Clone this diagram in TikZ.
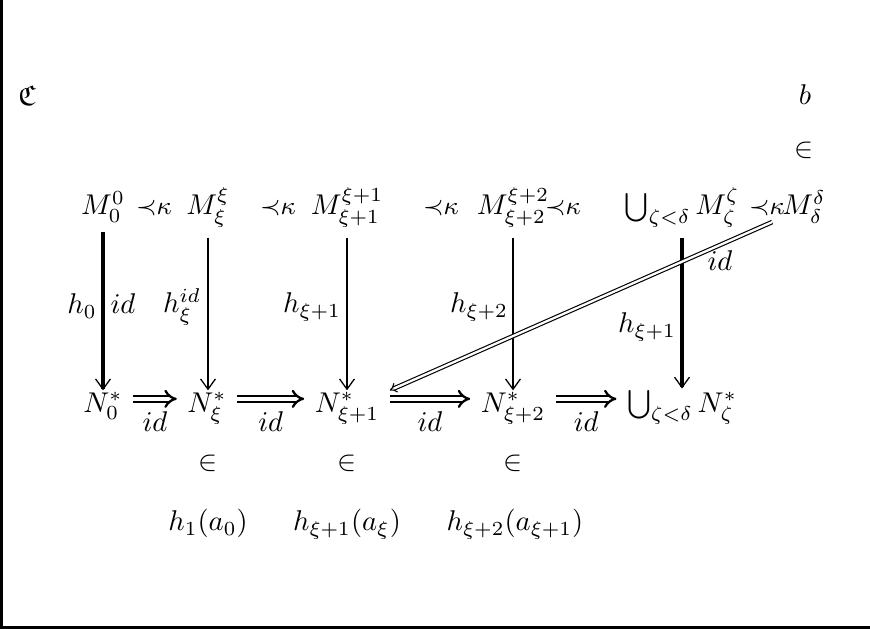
\documentclass[tikz,border=0pt]{standalone}
\usepackage{amssymb}
\usetikzlibrary{arrows.meta}
\begin{document}
\begin{tikzpicture}[x=0.35pt,y=-0.35pt,
  mnode/.style={anchor=base,inner sep=3.33pt},
  bnode/.style={anchor=base,inner xsep=3.5pt,inner ysep=0.5pt},
  txt/.style={anchor=base,inner sep=0pt},
  reltxt/.style={anchor=base,inner sep=0pt,font=\small},
  xytip/.style={-{Straight Barb[length=3.6pt,width=5.2pt,line width=0.45pt]}},
  thinar/.style={line width=0.7pt,xytip},
  thickar/.style={line width=1.2pt,xytip},
  dblar/.style={double,double distance=1.3pt,line width=0.8pt,-{Implies}},
  diagar/.style={double,double distance=0.8pt,line width=0.4pt,-{Implies}},
  frameline/.style={line width=1pt}
]
\useasboundingbox (0,0) rectangle (870,629);
\draw[frameline] (1.5,0) -- (1.5,627.5) -- (870,627.5);

% top labels
\node[txt] (c) at (27,106) {$\mathfrak{C}$};
\node[txt] (b) at (805,105) {$b$};
\node[txt] (inb) at (804,158) {$\in$};

% top row
\node[mnode] (M0) at (103,215) {$M_0^0$};
\node[reltxt] (p1) at (154,215) {${\prec}\kappa$};
\node[mnode] (Mxi) at (208,215) {$M_\xi^\xi$};
\node[reltxt] (p2) at (278,215) {${\prec}\kappa$};
\node[mnode] (Mxi1) at (347,215) {$M_{\xi+1}^{\xi+1}$};
\node[reltxt] (p3) at (441,215) {${\prec}\kappa$};
\node[mnode] (Mxi2) at (513,215) {$M_{\xi+2}^{\xi+2}$};
\node[reltxt] (p4) at (563,215) {${\prec}\kappa$};
\node[mnode] (MU) at (682,215) {$\bigcup_{\zeta<\delta} M_\zeta^\zeta$};
\node[reltxt] (p5) at (767,215) {${\prec}\kappa$};
\node[mnode] (Md) at (804,215) {$M_\delta^\delta$};

% bottom row
\node[bnode] (N0) at (103,412) {$N_0^*$};
\node[bnode] (Nxi) at (207,412) {$N_\xi^*$};
\node[bnode] (Nxi1) at (347,412) {$N_{\xi+1}^*$};
\node[bnode] (Nxi2) at (513,412) {$N_{\xi+2}^*$};
\node[bnode] (NU) at (682,412) {$\bigcup_{\zeta<\delta} N_\zeta^*$};

% elements
\node[txt] (in1) at (208,471) {$\in$};
\node[txt] (in2) at (347,471) {$\in$};
\node[txt] (in3) at (513,471) {$\in$};
\node[txt] (e1) at (208,531) {$h_1(a_0)$};
\node[txt] (e2) at (347,531) {$h_{\xi+1}(a_\xi)$};
\node[txt] (e3) at (515,531) {$h_{\xi+2}(a_{\xi+1})$};

% vertical arrows
\draw[thickar] (M0) -- (N0);
\draw[thinar] (Mxi) -- (Mxi |- Nxi.north);
\draw[thinar] (Mxi1) -- (Nxi1);
\draw[thinar] (Mxi2) -- (Nxi2);
\draw[thickar] (MU) -- (NU);

% vertical labels
\node[txt] (l1) at (82,314) {$h_0$};
\node[txt] (l2) at (123,314) {$id$};
\node[txt] (l3) at (182,313) {$h_\xi^{id}$};
\node[txt] (l4) at (312,313) {$h_{\xi+1}$};
\node[txt] (l5) at (479,313) {$h_{\xi+2}$};
\node[txt] (l6) at (647,333) {$h_{\xi+1}$};

% horizontal double arrows
\draw[dblar] ([yshift=4.6pt]N0.base east) -- ([yshift=4.6pt]Nxi.base west) node[midway,below=0.8pt] {$id$};
\draw[dblar] ([yshift=4.6pt]Nxi.base east) -- ([yshift=4.6pt]Nxi1.base west) node[midway,below=0.8pt] {$id$};
\draw[dblar] ([yshift=4.6pt]Nxi1.base east) -- ([yshift=4.6pt]Nxi2.base west) node[midway,below=0.8pt] {$id$};
\draw[dblar] ([yshift=4.6pt]Nxi2.base east) -- ([yshift=4.6pt]NU.base west) node[midway,below=0.8pt] {$id$};

% diagonal
\draw[diagar] ([yshift=3.9pt]Md.south west) -- (Nxi1.north east);
\node[txt] (l7) at (720,271) {$id$};
\end{tikzpicture}
\end{document}
